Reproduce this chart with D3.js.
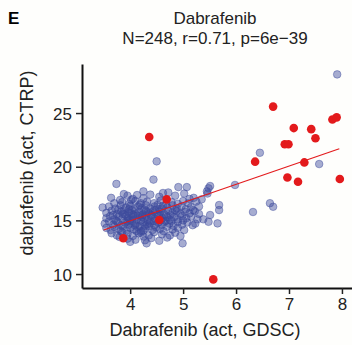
<!DOCTYPE html>
<html>
<head>
<meta charset="utf-8">
<script src="https://cdn.jsdelivr.net/npm/d3@7"></script>
<style>
  body { margin: 0; background: #fefefc; }
  svg { display: block; font-family: "Liberation Sans", Arial, sans-serif; }
  .tick text { font-size: 17px; fill: #222; }
</style>
</head>
<body>
<div id="chart"></div>
<script>
// GDSC vs CTRP activity, blue = other lines, red = highlighted
const blueX = [
  7.91, 6.45, 7.57, 5.98, 5.51, 5.48, 5.46, 5.35, 5.68, 5.68, 5.51, 5.38, 5.48, 5.65, 6.32, 6.64, 6.70,
  4.50, 4.44, 3.74, 3.48, 3.64, 4.99, 4.31, 4.00,
  4.91, 5.07, 4.72, 4.25, 3.81, 4.13, 4.75, 4.16, 5.23, 5.19, 5.20, 5.45,
  3.95, 4.05, 4.38, 4.55, 4.62, 4.85, 5.02, 5.12, 4.25, 3.88,
  3.70, 3.85, 3.98, 4.10, 4.20, 4.32, 4.45, 4.58, 4.78, 4.90, 5.00, 5.10, 5.25, 4.02, 4.68,
  3.60, 3.72, 3.82, 3.92, 4.00, 4.08, 4.15, 4.22, 4.30, 4.38, 4.46, 4.55, 4.62, 4.70, 4.80, 4.88, 4.97, 5.05, 5.15, 5.30, 3.78, 4.27, 4.52,
  3.55, 3.65, 3.75, 3.83, 3.90, 3.97, 4.03, 4.10, 4.17, 4.24, 4.30, 4.36, 4.43, 4.50, 4.57, 4.64, 4.72, 4.80, 4.88, 4.95, 5.03, 5.12, 5.22, 5.30, 4.06, 4.40, 4.76, 3.88,
  3.55, 3.62, 3.70, 3.78, 3.85, 3.92, 3.99, 4.05, 4.12, 4.19, 4.26, 4.33, 4.40, 4.47, 4.54, 4.61, 4.68, 4.75, 4.83, 4.90, 4.98, 5.06, 5.15, 5.27, 3.96, 4.22, 4.58, 4.30,
  3.52, 3.60, 3.68, 3.76, 3.83, 3.90, 3.97, 4.04, 4.11, 4.18, 4.25, 4.32, 4.39, 4.46, 4.53, 4.60, 4.67, 4.74, 4.82, 4.90, 4.98, 5.08, 5.18, 3.95, 4.28, 4.64,
  3.55, 3.63, 3.70, 3.78, 3.86, 3.93, 4.00, 4.07, 4.14, 4.21, 4.28, 4.35, 4.42, 4.49, 4.56, 4.63, 4.70, 4.80, 4.90, 5.02, 4.12, 3.82,
  3.65, 3.75, 3.95, 4.05, 4.20, 4.35, 4.45, 4.60, 4.85, 4.95, 4.25, 3.85,
  3.95, 4.10, 4.40, 4.55, 4.70, 4.28, 3.80,
  4.02, 4.15, 4.34, 4.48, 4.20, 4.37, 4.09, 3.86, 4.55, 4.70, 3.74, 4.45, 4.78, 4.00, 4.25, 3.98, 4.60, 4.85, 5.00, 3.68, 4.18
];
const blueY = [
  28.6, 21.3, 20.25, 18.3, 18.2, 17.99, 17.5, 16.96, 16.43, 15.96, 15.5, 15.1, 14.87, 14.72, 15.78, 16.6, 16.27,
  20.5, 18.8, 18.4, 16.2, 17.1, 12.86, 12.86, 13.0,
  18.1, 18.1, 17.6, 17.7, 16.9, 17.36, 13.6, 13.8, 14.7, 15.96, 17.1, 17.7,
  17.3, 17.0, 17.4, 17.2, 17.55, 17.3, 17.5, 17.0, 17.05, 17.45,
  16.6, 16.7, 16.55, 16.8, 16.6, 16.75, 16.6, 16.85, 16.7, 16.55, 16.8, 16.6, 16.75, 16.9, 16.5,
  16.3, 16.1, 16.4, 16.2, 16.35, 16.05, 16.3, 16.15, 16.4, 16.1, 16.3, 16.05, 16.35, 16.2, 16.4, 16.1, 16.3, 16.05, 16.25, 16.3, 16.0, 16.0, 16.45,
  15.7, 15.9, 15.6, 15.85, 15.55, 15.75, 15.95, 15.6, 15.8, 15.55, 15.9, 15.65, 15.85, 15.6, 15.8, 15.55, 15.9, 15.7, 15.85, 15.6, 15.8, 15.65, 15.85, 15.6, 15.5, 15.5, 15.5, 15.95,
  15.2, 15.4, 15.1, 15.35, 15.15, 15.4, 15.05, 15.3, 15.1, 15.45, 15.2, 15.0, 15.35, 15.15, 15.4, 15.2, 15.45, 15.05, 15.3, 15.1, 15.4, 15.2, 15.35, 15.1, 15.25, 15.3, 15.0, 15.45,
  14.7, 14.9, 14.6, 14.85, 14.55, 14.8, 14.6, 14.95, 14.7, 14.5, 14.85, 14.65, 14.9, 14.55, 14.8, 14.6, 14.95, 14.7, 14.5, 14.85, 14.6, 14.8, 14.55, 14.95, 14.5, 14.85,
  14.3, 14.1, 14.4, 14.2, 14.45, 14.05, 14.3, 14.15, 14.4, 14.0, 14.25, 14.45, 14.1, 14.35, 14.2, 14.0, 14.4, 14.15, 14.3, 14.1, 14.0, 14.0,
  13.8, 13.6, 13.75, 13.55, 13.85, 13.6, 13.9, 13.7, 13.85, 13.55, 13.5, 13.9,
  13.3, 13.2, 13.35, 13.1, 13.4, 13.15, 13.45,
  15.65, 15.45, 15.75, 15.95, 15.0, 14.75, 14.55, 15.6, 15.55, 15.3, 14.95, 14.95, 14.95, 14.75, 14.05, 16.05, 16.1, 15.95, 15.0, 15.5, 16.45
];
const redX = [4.36, 4.69, 4.55, 3.87, 5.57, 6.70, 7.09, 7.42, 7.50, 7.82, 7.90, 6.92, 6.99, 6.36, 7.29, 6.97, 7.17, 7.96];
const redY = [22.77, 16.96, 15.03, 13.33, 9.5, 25.6, 23.6, 23.5, 22.65, 24.4, 24.6, 22.1, 22.1, 20.47, 20.4, 19.0, 18.6, 18.85];

// fitted line ends
const fitX = [3.5, 7.95];
const fitY = [14.1, 21.68];

const xTicks = [4, 5, 6, 7, 8];
const yTicks = [10, 15, 20, 25];

const W = 352, H = 345;
const svg = d3.select("#chart").append("svg")
  .attr("width", W).attr("height", H);

const x = d3.scaleLinear().domain([3.09, 8.19]).range([82, 352]);
const y = d3.scaleLinear().domain([8.7, 29.57]).range([288, 64]);

// Titulos
svg.append("text").attr("x", 8).attr("y", 24)
  .style("font-size", "17px").style("font-weight", "bold").text("E");
svg.append("text").attr("x", 215).attr("y", 24).attr("text-anchor", "middle")
  .style("font-size", "17px").attr("fill", "#222").text("Dabrafenib");
svg.append("text").attr("x", 215).attr("y", 44).attr("text-anchor", "middle")
  .style("font-size", "17px").attr("fill", "#222").text("N=248, r=0.71, p=6e\u221239");

// Ejes
const gx = svg.append("g").attr("transform", "translate(0,288)")
  .call(d3.axisBottom(x).tickValues(xTicks).tickFormat(d3.format("d"))
    .tickSize(6).tickSizeOuter(0).tickPadding(4));
const gy = svg.append("g").attr("transform", "translate(82,0)")
  .call(d3.axisLeft(y).tickValues(yTicks).tickFormat(d3.format("d"))
    .tickSize(6).tickSizeOuter(0).tickPadding(4));
[gx, gy].forEach(g => {
  g.select(".domain").attr("stroke", "#111").attr("stroke-width", 2);
  g.selectAll(".tick line").attr("stroke", "#222").attr("stroke-width", 1.5);
});
gy.selectAll(".tick text").attr("dy", "0.36em");

svg.append("text").attr("x", 205).attr("y", 336).attr("text-anchor", "middle")
  .style("font-size", "18px").attr("fill", "#222").text("Dabrafenib (act, GDSC)");
svg.append("text").attr("transform", "translate(33,163) rotate(-90)").attr("text-anchor", "middle")
  .style("font-size", "18px").attr("fill", "#222").text("dabrafenib (act, CTRP)");

// Puntos
const blue = blueX.map((v, i) => ({ x: v, y: blueY[i] }));
const red = redX.map((v, i) => ({ x: v, y: redY[i] }));

svg.selectAll(".blue").data(blue).enter().append("circle")
  .attr("class", "blue")
  .attr("cx", d => x(d.x)).attr("cy", d => y(d.y)).attr("r", 3.8)
  .attr("fill", "#3b4a9c").attr("fill-opacity", 0.45)
  .attr("stroke", "#3b4a9c").attr("stroke-opacity", 0.45).attr("stroke-width", 1);

svg.append("line")
  .attr("x1", x(fitX[0])).attr("y1", y(fitY[0]))
  .attr("x2", x(fitX[1])).attr("y2", y(fitY[1]))
  .attr("stroke", "#e31a1c").attr("stroke-width", 1.1);

svg.selectAll(".red").data(red).enter().append("circle")
  .attr("class", "red")
  .attr("cx", d => x(d.x)).attr("cy", d => y(d.y)).attr("r", 4.3)
  .attr("fill", "#e31a1c");
</script>
</body>
</html>
